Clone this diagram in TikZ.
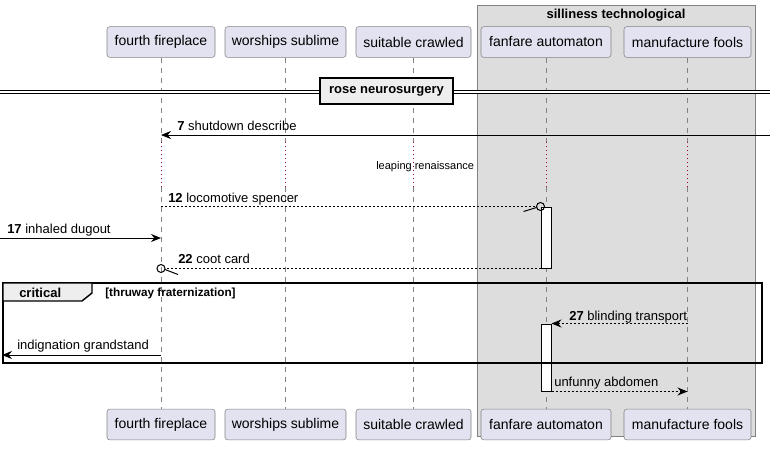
\documentclass[tikz,border=0pt]{standalone}
\usepackage{fontspec}
\setmainfont{Liberation Sans}
\usetikzlibrary{arrows,arrows.meta,positioning,calc}
\definecolor{partfill}{RGB}{226,226,240}
\definecolor{partline}{RGB}{130,130,130}
\definecolor{boxfill}{RGB}{221,221,221}
\definecolor{tabfill}{RGB}{238,238,238}
\definecolor{delayred}{RGB}{168,0,54}
\tikzstyle{every picture}+=[>={Stealth[length=7.5pt,width=6pt,inset=2.5pt]}]
\tikzstyle{participant}=[rectangle,draw=partline,fill=partfill,rounded corners=2pt,inner sep=0pt,minimum height=23pt,font=\fontsize{10.5}{12}\selectfont]
\tikzstyle{lifeline}=[draw=partline,line width=0.75pt,dash pattern=on 3.75pt off 3.75pt]
\tikzstyle{delay}=[draw=delayred,line width=0.75pt,dash pattern=on 0.75pt off 2.25pt]
\tikzstyle{msg}=[line width=0.75pt]
\tikzstyle{reply}=[msg,dash pattern=on 1.5pt off 1.5pt]
\tikzstyle{lbl}=[anchor=base west,inner sep=0pt,font=\fontsize{9.75}{11}\selectfont]
\tikzstyle{activation}=[rectangle,draw=black,fill=white,line width=0.75pt,inner sep=0pt,minimum width=7.5pt]
\tikzstyle{lost}=[circle,draw=black,line width=0.75pt,inner sep=0pt,minimum size=6pt]

\begin{document}
\begin{tikzpicture}[x=0.75pt,y=-0.75pt,frame/.style={draw=black,line width=1.1pt}]
\useasboundingbox (0,0) rectangle (777,450);
% group box
\draw[draw=partline,fill=boxfill] (477,5) rectangle (755,436);
\node[anchor=base,inner sep=0pt,font=\fontsize{9.75}{11}\selectfont\bfseries] (silliness) at (616,18) {silliness technological};
% participants
\node[participant,minimum width=81pt] (fireplace) at (161,42) {fourth fireplace};
\node[participant,minimum width=90.75pt] (worships) at (285.5,42) {worships sublime};
\node[participant,minimum width=86.25pt] (suitable) at (413.5,42) {suitable crawled};
\node[participant,minimum width=97.5pt] (fanfare) at (546,42) {fanfare automaton};
\node[participant,minimum width=95.25pt] (manufacture) at (687.5,42) {manufacture fools};
\node[participant,minimum width=81pt] (fireplace2) at (161,424.5) {fourth fireplace};
\node[participant,minimum width=90.75pt] (worships2) at (285.5,424.5) {worships sublime};
\node[participant,minimum width=86.25pt] (suitable2) at (413.5,424.5) {suitable crawled};
\node[participant,minimum width=97.5pt] (fanfare2) at (546,424.5) {fanfare automaton};
\node[participant,minimum width=95.25pt] (manufacture2) at (687.5,424.5) {manufacture fools};
% lifelines with delay
\coordinate (d1) at (0,142);
\coordinate (d2) at (0,187);
\foreach \p in {fireplace,worships,suitable,fanfare,manufacture} {
  \draw[lifeline] (\p.south) -- (\p.south |- d1);
  \draw[delay] (\p.south |- d1) -- (\p.south |- d2);
  \draw[lifeline] (\p.south |- d2) -- (\p2.north);
}
\node[lbl,font=\fontsize{8.25}{10}\selectfont] (leaping) at (376,169) {leaping renaissance};
% divider
\coordinate (divL) at (0,91.5);
\coordinate (divR) at (770,91.5);
\draw[double,double distance=1.5pt,line width=0.75pt] (divL) -- (divR);
\node[draw=black,fill=tabfill,line width=1.5pt,minimum width=99.75pt,minimum height=19.5pt,inner sep=0pt,font=\fontsize{9.75}{11}\selectfont\bfseries] (rose) at (386.5,91) {rose neurosurgery};
% activations
\node[activation,minimum height=45.75pt] (act1) at (546,237.5) {};
\node[activation,minimum height=50.25pt] (act2) at (546,357.5) {};
% messages
\coordinate (r7) at (770,135);
\draw[msg,->] (r7) -- (fireplace |- r7);
\node[lbl] (l7) at (177,130) {\textbf{7} shutdown describe};
\node[lost] (o12) at (act1.north west) {};
\draw[reply] (fireplace |- o12) -- (o12.west);
\draw[msg] ($(o12)+(-17,5)$) -- ($(o12)+(-4,1)$);
\node[lbl] (l12) at (168,202.5) {\textbf{12} locomotive spencer};
\coordinate (s17) at (0,238);
\draw[msg,->] (s17) -- (fireplace |- s17);
\node[lbl] (l17) at (7,233) {\textbf{17} inhaled dugout};
\node[lost] (o22) at (fireplace |- act1.south) {};
\draw[reply] (act1.south west) -- (o22.east);
\draw[msg] ($(o22)+(17,6)$) -- ($(o22)+(4,1)$);
\node[lbl] (l22) at (178,263) {\textbf{22} coot card};
% critical fragment
\draw[frame] (3,283) rectangle (762,363);
\draw[frame,fill=tabfill] (3,283) -- (92,283) -- (92,293) -- (82,301) -- (3,301) -- cycle;
\node[lbl,font=\fontsize{9.75}{11}\selectfont\bfseries] (critical) at (19,297) {critical};
\node[lbl,font=\fontsize{8.8}{10}\selectfont\bfseries] (guard) at (105,296.5) {[thruway fraternization]};
\draw[reply,->] (manufacture |- act2.north) -- (act2.north east);
\node[lbl] (l27) at (569,320) {\textbf{27} blinding transport};
\coordinate (e355) at (2,355);
\draw[msg,->] (fireplace |- e355) -- (e355);
\node[lbl] (lind) at (17,349.5) {indignation grandstand};
\draw[reply,->] (act2.south east) -- (manufacture |- act2.south);
\node[lbl] (lunf) at (554,386.5) {unfunny abdomen};
\end{tikzpicture}
\end{document}
